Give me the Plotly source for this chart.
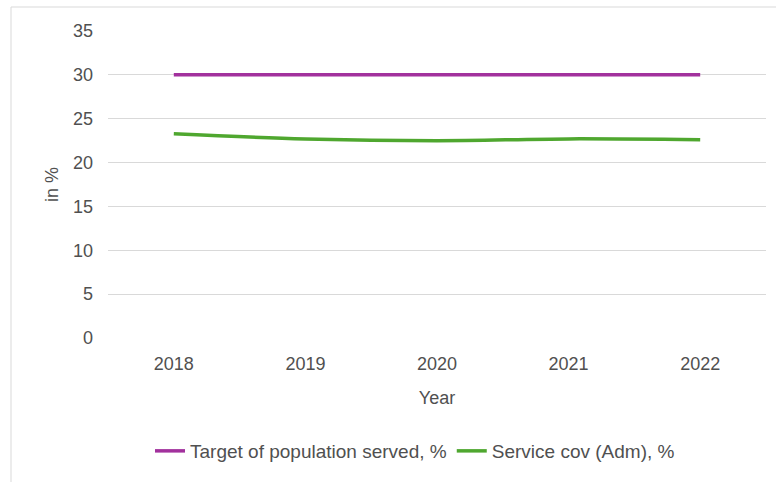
import plotly.graph_objects as go

years = ["2018", "2019", "2020", "2021", "2022"]
target = [30, 30, 30, 30, 30]
service = [23.3, 22.7, 22.5, 22.7, 22.6]

L, R, T, B = 108, 10, 31, 144
W, H = 776, 482
pw, ph = W - L - R, H - T - B

fig = go.Figure()
fig.add_trace(go.Scatter(x=years, y=target, mode="lines", name="Target of population served, %",
                         line=dict(color="#a2319d", width=3.5, shape="spline")))
fig.add_trace(go.Scatter(x=years, y=service, mode="lines", name="Service cov (Adm), %",
                         line=dict(color="#4fa72f", width=3.5, shape="spline")))

font = "Liberation Sans, Arial, Helvetica, sans-serif"
bx = (11 - L) / pw
ty = 1 + (T - 7) / ph
by = (338 - H) / ph
fig.add_shape(type="line", xref="paper", yref="paper", x0=bx, x1=bx, y0=by, y1=ty,
              line=dict(color="#d9d9d9", width=1))
fig.add_shape(type="line", xref="paper", yref="paper", x0=bx, x1=(W - L) / pw, y0=ty, y1=ty,
              line=dict(color="#d9d9d9", width=1))

txt = "#505050"
fig.update_layout(
    width=W, height=H,
    margin=dict(l=L, r=R, t=T, b=B),
    paper_bgcolor="white", plot_bgcolor="white",
    font=dict(family=font, size=18, color=txt),
    showlegend=True,
    legend=dict(orientation="h", x=(415 - L) / pw, xanchor="center", y=(338 - 451) / ph, yanchor="middle",
                font=dict(size=19, color=txt), itemwidth=30, tracegroupgap=0),
    xaxis=dict(type="category", showgrid=False, showline=False, zeroline=False,
               tickfont=dict(size=18, color=txt), ticklabelstandoff=13,
               title=dict(text="Year", font=dict(size=18, color=txt), standoff=18),
               range=[-0.5, 4.5]),
    yaxis=dict(range=[0, 35], dtick=5, showgrid=True, gridcolor="#d9d9d9", gridwidth=1,
               zeroline=False, showline=False,
               tickfont=dict(size=18, color=txt), ticklabelstandoff=14,
               title=dict(text="in %", font=dict(size=18, color=txt), standoff=9)),
)

fig.write_html("out.html")
